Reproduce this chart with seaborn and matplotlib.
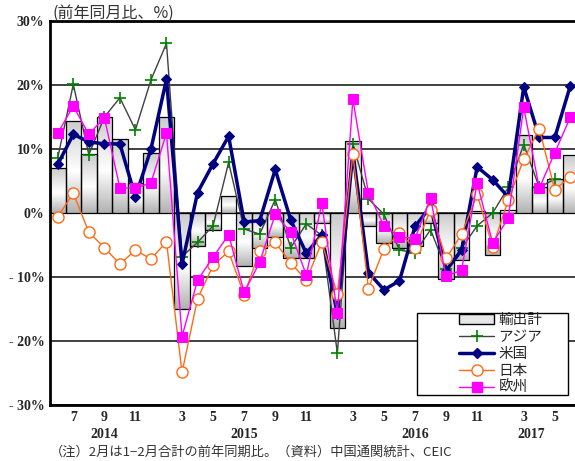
import matplotlib
matplotlib.use("Agg")
import matplotlib.pyplot as plt
import matplotlib.transforms as mtransforms
from matplotlib.patches import Patch, Rectangle
from matplotlib.lines import Line2D
import seaborn as sns
import numpy as np
import pandas as pd

# 月（1月は2月に合算）
months = (["2014-%d" % m for m in range(6, 13)]
          + ["2015-%d" % m for m in range(2, 13)]
          + ["2016-%d" % m for m in range(2, 13)]
          + ["2017-%d" % m for m in range(2, 7)])

# 前年同月比（%）
exports = [7.0, 14.4, 9.2, 15.0, 11.6, 4.7, 9.4,
           15.0, -15.0, -5.2, -2.6, 2.7, -8.3, -5.5, -3.8, -7.0, -7.1, -1.5,
           -17.9, 11.3, -2.0, -4.7, -5.5, -5.1, -1.6, -10.3, -7.4, 0.3, -6.5,
           0.5, 12.2, 4.1, 5.3, 9.0]
asia = [8.6, 20.1, 9.1, 15.0, 18.0, 13.0, 20.8,
        26.5, -6.8, -4.6, -2.0, 7.9, -2.5, -3.3, 2.1, -5.4, -1.7, -3.5,
        -21.9, 10.8, 2.2, -0.2, -5.8, -6.2, -2.6, -8.8, -5.5, -2.0, 0.0,
        4.0, 10.7, 4.0, 5.3, np.nan]
us = [7.6, 12.3, 11.1, 10.8, 10.8, 2.5, 10.0,
      20.9, -8.0, 3.2, 7.7, 12.0, -1.4, -1.2, 6.8, -1.1, -6.3, -3.4,
      -15.8, 9.5, -9.3, -12.0, -10.6, -2.1, 1.0, -9.0, -5.8, 7.2, 5.2,
      2.5, 19.7, 11.8, 11.8, 19.9]
japan = [-0.6, 3.1, -3.0, -5.4, -8.0, -5.8, -7.2,
         -4.5, -24.9, -13.4, -8.2, -6.0, -12.8, -5.9, -4.6, -7.8, -10.5, -4.6,
         -12.7, 9.2, -11.8, -5.6, -3.2, -5.4, 0.5, -7.1, -3.3, 2.9, -5.3,
         2.0, 8.4, 13.2, 3.6, 5.7]
europe = [12.5, 16.7, 12.3, 14.9, 3.9, 3.9, 4.7,
          12.5, -19.3, -10.5, -6.9, -3.4, -12.4, -7.7, -0.2, -3.0, -9.7, 1.5,
          -15.7, 17.8, 3.1, -2.0, -3.7, -4.0, 2.3, -9.9, -8.9, 4.7, -4.7,
          -0.8, 16.5, 3.9, 9.4, 15.0]

years = ["2014", "2015", "2016", "2017"]
year_pos = [3, 12, 23, 30.5]

df = pd.DataFrame({"month": months, "exports": exports, "asia": asia,
                   "us": us, "japan": japan, "europe": europe})
df["idx"] = np.arange(len(df))
month_num = [int(m.split("-")[1]) for m in months]

sns.set_style("white")
plt.rcParams["font.family"] = ["Liberation Serif", "Noto Sans CJK JP"]
JP = ["Noto Sans CJK JP", "DejaVu Sans"]

fig = plt.figure(figsize=(5.75, 4.61), dpi=100)
ax = fig.add_axes([50 / 575, 1 - 405 / 461, 525 / 575, 384 / 461])

sns.barplot(data=df, x="month", y="exports", ax=ax, width=1.0,
            color="#dddddd", saturation=1, edgecolor="black", linewidth=0.9,
            zorder=2)

# グラデーション
t = np.linspace(0, 1, 64)
g = np.interp(t, [0, 0.55, 1], [0.80, 1.0, 0.70])
grad = np.dstack([g, g, g]).reshape(-1, 1, 3)
for p in list(ax.patches):
    x0, y0 = p.get_xy()
    w, h = p.get_width(), p.get_height()
    im = ax.imshow(grad, extent=(x0, x0 + w, min(y0, y0 + h), max(y0, y0 + h)),
                   aspect="auto", zorder=2.1, origin="upper", interpolation="bilinear")
    im.set_clip_path(p)
    p.set_facecolor("none")
    p.set_zorder(2.2)

sns.lineplot(data=df, x="idx", y="asia", ax=ax, color="#404040", lw=1,
             marker="+", markersize=9, markeredgecolor="#008000", mew=1.2, zorder=3)
sns.lineplot(data=df, x="idx", y="us", ax=ax, color="#000080", lw=2.5,
             marker="D", markersize=5.5, markeredgecolor="#000080", zorder=4)
sns.lineplot(data=df, x="idx", y="japan", ax=ax, color="#ff6a13", lw=1,
             marker="o", markersize=8, markerfacecolor="white",
             markeredgecolor="#ff6a13", mew=1, zorder=5)
sns.lineplot(data=df, x="idx", y="europe", ax=ax, color="#ff00ff", lw=1,
             marker="s", markersize=7, markeredgecolor="#ff00ff", zorder=6)

ax.set_xlim(-0.5, 33.3)
ax.set_ylim(-30, 30)
yt = list(range(-30, 31, 10))
ax.set_yticks(yt)
ax.set_yticklabels([("- %d%%" % -v) if v < 0 else "%d%%" % v for v in yt],
                   fontsize=10, fontweight="bold")
tick_idx = [i for i, m in enumerate(month_num) if m % 2 == 1]
ax.set_xticks(tick_idx)
ax.set_xticklabels([str(month_num[i]) for i in tick_idx], fontsize=10, fontweight="bold")
ax.tick_params(axis="both", length=0, pad=4)
ax.set_xlabel("")
ax.set_ylabel("")

ax.yaxis.grid(True, color="#404040", lw=1.4)
ax.set_axisbelow(True)
for s in ["left", "top", "bottom"]:
    ax.spines[s].set_linewidth(2)
    ax.spines[s].set_color("black")
ax.spines["right"].set_visible(False)

trans = mtransforms.blended_transform_factory(ax.transData, fig.transFigure)
for yr, xp in zip(years, year_pos):
    ax.text(xp, 1 - 434 / 461, yr, transform=trans, ha="center", va="center",
            fontsize=10, fontweight="bold")

fig.text(52 / 575, 1 - 13 / 461, "(前年同月比、%)", family=JP, fontsize=11.5,
         va="center", ha="left", color="#333333")
fig.text(50 / 575, 1 - 452 / 461, "（注）2月は1−2月合計の前年同期比。（資料）中国通関統計、CEIC",
         family=JP, fontsize=9.5, va="center", ha="left", color="#333333")

# 凡例の枠
ax.add_patch(Rectangle((367 / 525, 10 / 384), 151 / 525, 82 / 384,
                       transform=ax.transAxes, facecolor="white",
                       edgecolor="black", lw=1, zorder=9))

handles = [
    Patch(facecolor="#e6e6e6", edgecolor="black", linewidth=1),
    Line2D([], [], color="#404040", lw=1, marker="+", markersize=9,
           markeredgecolor="#008000", mew=1.2),
    Line2D([], [], color="#000080", lw=2.5, marker="D", markersize=5.5),
    Line2D([], [], color="#ff6a13", lw=1, marker="o", markersize=8,
           markerfacecolor="white", mew=1),
    Line2D([], [], color="#ff00ff", lw=1, marker="s", markersize=7),
]
labels = ["輸出計", "アジア", "米国", "日本", "欧州"]
leg = ax.legend(handles, labels, loc="center left",
                bbox_to_anchor=(402 / 525, 51 / 384),
                prop={"family": JP, "size": 10.5}, frameon=False,
                handlelength=2.4, borderpad=0, labelspacing=0.2,
                handletextpad=0.3)
leg.set_zorder(10)

fig.savefig("out.png", dpi=100)
